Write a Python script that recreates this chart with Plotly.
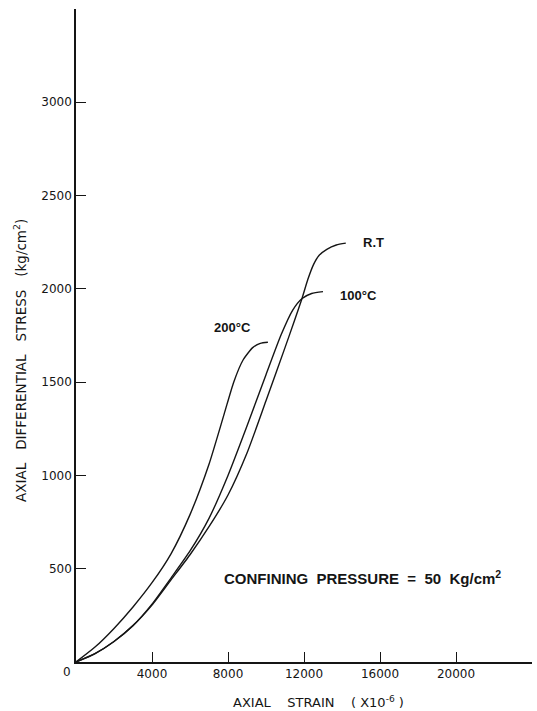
import plotly.graph_objects as go

# Axial strain (x10^-6) and axial differential stress (kg/cm^2) per test temperature
strain_200c = [0, 1000, 2000, 3000, 4000, 5000, 6000, 7000, 7800, 8300, 8800, 9300, 9700, 10100]
stress_200c = [0, 80, 180, 295, 425, 580, 790, 1060, 1330, 1500, 1620, 1685, 1708, 1714]

strain_100c = [0, 1000, 2000, 3000, 4000, 5000, 6000, 7000, 8000, 9000, 10000,
               10800, 11400, 11900, 12400, 13000]
stress_100c = [0, 45, 110, 195, 310, 450, 595, 770, 1000, 1265, 1540,
               1755, 1885, 1948, 1975, 1985]

strain_rt = [0, 1000, 2000, 3000, 4000, 5000, 6000, 7000, 8000, 9000, 10000,
             11000, 11500, 11900, 12200, 12500, 12800, 13200, 13700, 14200]
stress_rt = [0, 45, 110, 195, 305, 440, 575, 725, 895, 1120, 1400,
             1685, 1830, 1950, 2050, 2130, 2180, 2212, 2235, 2245]

x_ticks = [4000, 8000, 12000, 16000, 20000, 24000]
x_tick_text = ["4000", "8000", "12000", "16000", "20000", ""]
y_ticks = [500, 1000, 1500, 2000, 2500, 3000, 3500]
y_tick_text = ["500", "1000", "1500", "2000", "2500", "3000", ""]

INK = "#151515"
LINE_W = 1.4

fig = go.Figure()
for xs, ys in [(strain_200c, stress_200c), (strain_100c, stress_100c), (strain_rt, stress_rt)]:
    fig.add_trace(go.Scatter(
        x=xs, y=ys, mode="lines",
        line=dict(color=INK, width=LINE_W, shape="spline", smoothing=0.6),
        hoverinfo="skip", showlegend=False,
    ))

label_font = dict(family="Liberation Sans", size=13, color=INK)
curve_labels = [
    ("200°C", strain_200c[-1] - 1850, stress_200c[-1] + 80),
    ("100°C", strain_100c[-1] + 1850, stress_100c[-1] - 20),
    ("R.T", strain_rt[-1] + 1450, stress_rt[-1] + 5),
]
for text, x, y in curve_labels:
    fig.add_annotation(x=x, y=y, xref="x", yref="y", text=f"<b>{text}</b>",
                       showarrow=False, font=label_font)

fig.add_annotation(x=15100, y=455, xref="x", yref="y",
                   text="<b>CONFINING  PRESSURE  =  50  Kg/cm<sup>2</sup></b>",
                   showarrow=False, font=dict(family="Liberation Sans", size=15, color=INK))

# shared origin label
fig.add_annotation(x=0, y=0, xref="x", yref="y", text="0", showarrow=False,
                   xshift=-9, yshift=-10,
                   font=dict(family="DejaVu Sans", size=12, color=INK))

fig.add_annotation(x=0.531, y=-0.061, xref="paper", yref="paper",
                   text="AXIAL    STRAIN    ( X10<sup>-6</sup> )",
                   showarrow=False, font=dict(family="DejaVu Sans", size=13, color=INK),
                   xanchor="center", yanchor="middle")
fig.add_annotation(x=-0.123, y=0.4625, xref="paper", yref="paper",
                   text="AXIAL   DIFFERENTIAL   STRESS   (kg/cm<sup>2</sup>)",
                   textangle=-90, showarrow=False,
                   font=dict(family="DejaVu Sans", size=13.5, color=INK),
                   xanchor="center", yanchor="middle")

axis_common = dict(
    showline=True, linecolor=INK, linewidth=1.5,
    showgrid=False, zeroline=False,
    ticks="inside", ticklen=10, tickwidth=1.4, tickcolor=INK,
    tickmode="array",
    tickfont=dict(family="DejaVu Sans", size=12, color=INK),
)
fig.update_xaxes(range=[0, 24000], tickvals=x_ticks, ticktext=x_tick_text, **axis_common)
fig.update_yaxes(range=[0, 3500], tickvals=y_ticks, ticktext=y_tick_text, **axis_common)

fig.update_layout(
    width=537, height=711,
    margin=dict(l=76, r=5, t=9, b=49),
    paper_bgcolor="white", plot_bgcolor="white",
    showlegend=False,
)

fig.write_html("out.html")
